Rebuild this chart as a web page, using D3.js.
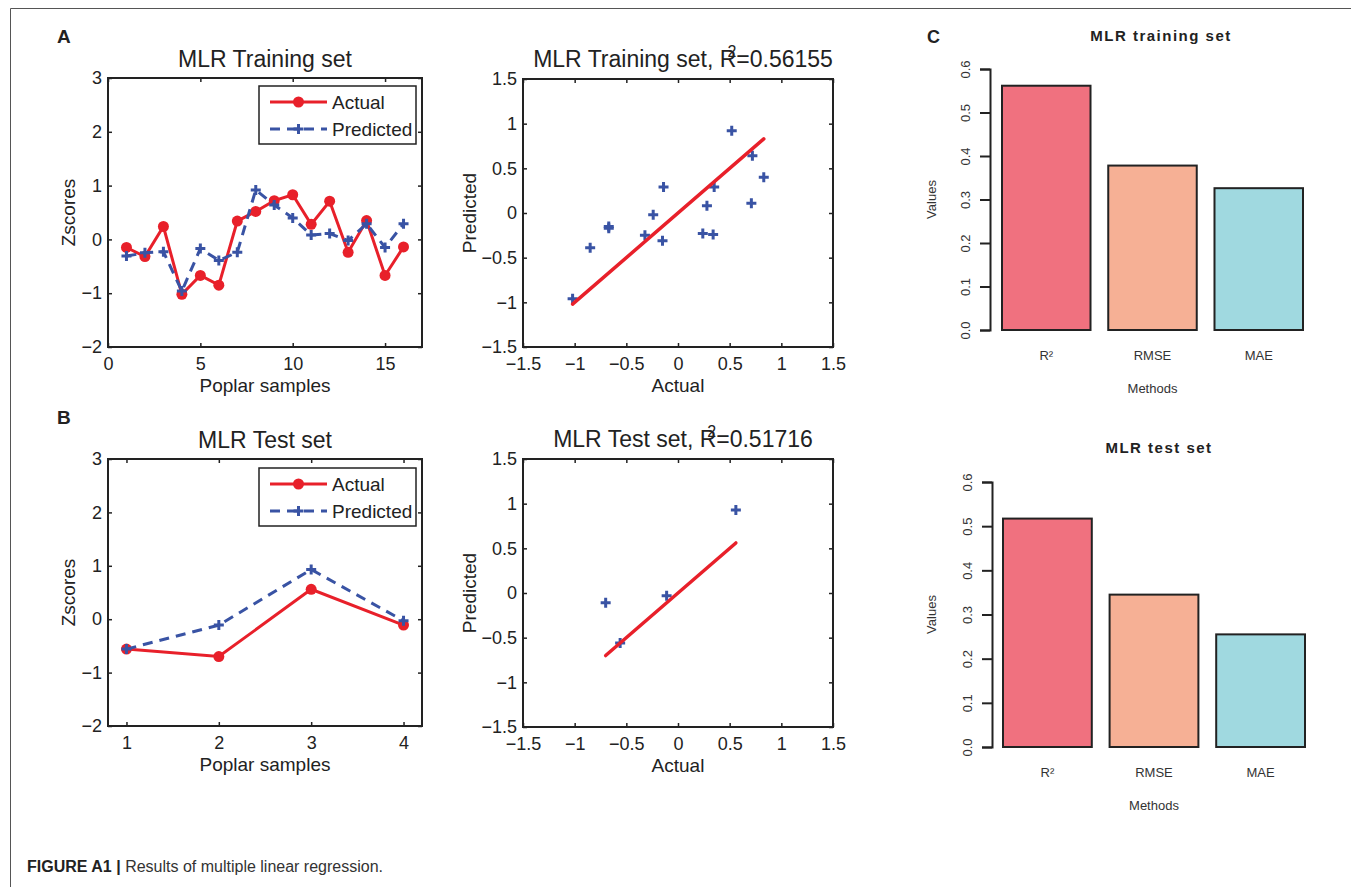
<!DOCTYPE html>
<html>
<head>
<meta charset="utf-8">
<script src="https://cdn.jsdelivr.net/npm/d3@7"></script>
<style>
body { margin: 0; background: #fff; }
text { font-family: "Liberation Sans", Arial, Helvetica, sans-serif; }
</style>
</head>
<body>
<div id="chart"></div>
<script>
// values
var trainSamples = [1, 2, 3, 4, 5, 6, 7, 8, 9, 10, 11, 12, 13, 14, 15, 16];
var trainActual = [-0.15, -0.32, 0.24, -1.02, -0.67, -0.85, 0.34, 0.52, 0.72, 0.83, 0.28, 0.71, -0.24, 0.35, -0.67, -0.14];
var trainPredicted = [-0.31, -0.25, -0.23, -0.96, -0.17, -0.39, -0.24, 0.92, 0.64, 0.40, 0.08, 0.11, -0.02, 0.29, -0.15, 0.29];

var testSamples = [1, 2, 3, 4];
var testActual = [-0.56, -0.70, 0.56, -0.11];
var testPredicted = [-0.56, -0.11, 0.93, -0.03];

var metricNames = ["R\u00b2", "RMSE", "MAE"];
var trainMetrics = [0.56155, 0.378, 0.326];
var testMetrics = [0.51716, 0.345, 0.255];

var lineYTicks = [-2, -1, 0, 1, 2, 3];
var trainXTicks = [0, 5, 10, 15];
var testXTicks = [1, 2, 3, 4];
var scatterTicks = [-1.5, -1, -0.5, 0, 0.5, 1, 1.5];
var barTicks = [0, 0.1, 0.2, 0.3, 0.4, 0.5, 0.6];

var red = "#e8202a";
var blue = "#3953a4";
var ink = "#222";
var barColors = ["#f0717f", "#f6b095", "#a0d9e0"];

var svg = d3.select("#chart")
  .append("svg")
  .attr("width", 1351)
  .attr("height", 887);

// outer figure frame
svg.append("path")
  .attr("d", "M1351,8.5H10.5V887")
  .attr("fill", "none")
  .attr("stroke", "#555")
  .attr("stroke-width", 1);

var fmt = d3.format("~g");

// matlab style box with inward ticks on all four sides
function boxAxes(g, x, y, xTicks, yTicks, b) {
  var bottom = g.append("g")
    .attr("transform", `translate(0, ${b.bottom})`)
    .call(d3.axisBottom(x).tickValues(xTicks).tickSizeInner(-4).tickSizeOuter(0).tickPadding(10).tickFormat(fmt));
  var top = g.append("g")
    .attr("transform", `translate(0, ${b.top})`)
    .call(d3.axisTop(x).tickValues(xTicks).tickSizeInner(-4).tickSizeOuter(0).tickFormat(""));
  var left = g.append("g")
    .attr("transform", `translate(${b.left}, 0)`)
    .call(d3.axisLeft(y).tickValues(yTicks).tickSizeInner(-4).tickSizeOuter(0).tickPadding(6).tickFormat(fmt));
  var right = g.append("g")
    .attr("transform", `translate(${b.right}, 0)`)
    .call(d3.axisRight(y).tickValues(yTicks).tickSizeInner(-4).tickSizeOuter(0).tickFormat(""));

  [bottom, top, left, right].forEach(function(a) {
    a.attr("font-size", 18).attr("font-family", null);
    a.select(".domain").remove();
    a.selectAll(".tick line").attr("stroke", ink).attr("stroke-width", 1.5);
    a.selectAll(".tick text").attr("fill", ink);
  });

  g.append("rect")
    .attr("x", b.left)
    .attr("y", b.top)
    .attr("width", b.right - b.left)
    .attr("height", b.bottom - b.top)
    .attr("fill", "none")
    .attr("stroke", ink)
    .attr("stroke-width", 2);
}

function plusPath(s) {
  return `M${-s},0H${s}M0,${-s}V${s}`;
}

function linePanel(opt) {
  var b = opt.box;
  var g = svg.append("g");
  var x = d3.scaleLinear().domain(opt.xDomain).range([b.left, b.right]);
  var y = d3.scaleLinear().domain([-2, 3]).range([b.bottom, b.top]);

  boxAxes(g, x, y, opt.xTicks, lineYTicks, b);

  var line = d3.line().x(d => x(d[0])).y(d => y(d[1]));

  g.append("path")
    .attr("d", line(d3.zip(opt.samples, opt.actual)))
    .attr("fill", "none")
    .attr("stroke", red)
    .attr("stroke-width", 3);

  g.selectAll(".act")
    .data(d3.zip(opt.samples, opt.actual))
    .enter()
    .append("circle")
    .attr("cx", d => x(d[0]))
    .attr("cy", d => y(d[1]))
    .attr("r", 5.5)
    .attr("fill", red);

  g.append("path")
    .attr("d", line(d3.zip(opt.samples, opt.predicted)))
    .attr("fill", "none")
    .attr("stroke", blue)
    .attr("stroke-width", 3)
    .attr("stroke-dasharray", "10,7");

  g.selectAll(".pred")
    .data(d3.zip(opt.samples, opt.predicted))
    .enter()
    .append("path")
    .attr("transform", d => `translate(${x(d[0])}, ${y(d[1])})`)
    .attr("d", plusPath(5))
    .attr("stroke", blue)
    .attr("stroke-width", 3);

  // legend
  var lg = g.append("g")
    .attr("transform", `translate(${b.right - 163}, ${b.top + opt.legendTop})`);
  lg.append("rect")
    .attr("width", 157)
    .attr("height", 58)
    .attr("fill", "#fff")
    .attr("stroke", ink)
    .attr("stroke-width", 1.5);
  lg.append("line")
    .attr("x1", 11).attr("x2", 68).attr("y1", 16).attr("y2", 16)
    .attr("stroke", red).attr("stroke-width", 3);
  lg.append("circle")
    .attr("cx", 39.5).attr("cy", 16).attr("r", 5.5).attr("fill", red);
  lg.append("line")
    .attr("x1", 11).attr("x2", 68).attr("y1", 43).attr("y2", 43)
    .attr("stroke", blue).attr("stroke-width", 3).attr("stroke-dasharray", "10,7");
  lg.append("path")
    .attr("transform", "translate(39.5, 43)")
    .attr("d", plusPath(5))
    .attr("stroke", blue).attr("stroke-width", 3);
  lg.append("text").attr("x", 73).attr("y", 23).attr("font-size", 19).attr("fill", ink).text("Actual");
  lg.append("text").attr("x", 73).attr("y", 50).attr("font-size", 19).attr("fill", ink).text("Predicted");

  // titles and labels
  g.append("text")
    .attr("x", (b.left + b.right) / 2)
    .attr("y", b.top - 11)
    .attr("text-anchor", "middle")
    .attr("font-size", 23)
    .attr("fill", ink)
    .text(opt.title);

  g.append("text")
    .attr("x", (b.left + b.right) / 2)
    .attr("y", b.bottom + 45)
    .attr("text-anchor", "middle")
    .attr("font-size", 19)
    .attr("fill", ink)
    .text("Poplar samples");

  g.append("text")
    .attr("transform", `translate(75, ${(b.top + b.bottom) / 2}) rotate(-90)`)
    .attr("text-anchor", "middle")
    .attr("font-size", 19)
    .attr("fill", ink)
    .text("Zscores");

  g.append("text")
    .attr("x", 57)
    .attr("y", b.top - 35)
    .attr("font-size", 19)
    .attr("font-weight", "bold")
    .attr("fill", ink)
    .text(opt.letter);
}

function scatterPanel(opt) {
  var b = opt.box;
  var g = svg.append("g");
  var x = d3.scaleLinear().domain([-1.5, 1.5]).range([b.left, b.right]);
  var y = d3.scaleLinear().domain([-1.5, 1.5]).range([b.bottom, b.top]);

  boxAxes(g, x, y, scatterTicks, scatterTicks, b);

  g.selectAll(".pt")
    .data(d3.zip(opt.actual, opt.predicted))
    .enter()
    .append("path")
    .attr("transform", d => `translate(${x(d[0])}, ${y(d[1])})`)
    .attr("d", plusPath(5))
    .attr("stroke", blue)
    .attr("stroke-width", 3);

  // actual against actual (identity) line
  var ext = d3.extent(opt.actual);
  g.append("line")
    .attr("x1", x(ext[0])).attr("y1", y(ext[0]))
    .attr("x2", x(ext[1])).attr("y2", y(ext[1]))
    .attr("stroke", red)
    .attr("stroke-width", 3.5)
    .attr("stroke-linecap", "round");

  var t = g.append("text")
    .attr("x", 683)
    .attr("y", b.top - 12)
    .attr("text-anchor", "middle")
    .attr("font-size", 23)
    .attr("fill", ink);
  t.append("tspan").text(opt.title + ", R");
  t.append("tspan").attr("dx", -9).attr("dy", -10).attr("font-size", 16).text("2");
  t.append("tspan").attr("dy", 10).text("=" + opt.r2);

  g.append("text")
    .attr("x", (b.left + b.right) / 2)
    .attr("y", b.bottom + 45)
    .attr("text-anchor", "middle")
    .attr("font-size", 19)
    .attr("fill", ink)
    .text("Actual");

  g.append("text")
    .attr("transform", `translate(476, ${(b.top + b.bottom) / 2}) rotate(-90)`)
    .attr("text-anchor", "middle")
    .attr("font-size", 19)
    .attr("fill", ink)
    .text("Predicted");
}

function barPanel(opt) {
  var b = opt.box;
  var g = svg.append("g");
  var x = d3.scaleBand()
    .domain(metricNames)
    .range([b.left, b.right])
    .paddingInner(0.167)
    .paddingOuter(0);
  var y = d3.scaleLinear().domain([0, 0.6]).range([b.bottom, b.top]);

  g.selectAll(".bar")
    .data(d3.zip(metricNames, opt.values))
    .enter()
    .append("rect")
    .attr("x", d => x(d[0]))
    .attr("y", d => y(d[1]))
    .attr("width", x.bandwidth())
    .attr("height", d => y(0) - y(d[1]))
    .attr("fill", (d, i) => barColors[i])
    .attr("stroke", ink)
    .attr("stroke-width", 2);

  var ax = g.append("g")
    .attr("transform", `translate(${opt.axisX}, 0)`)
    .call(d3.axisLeft(y).tickValues(barTicks).tickSize(10).tickFormat(d3.format(".1f")));
  ax.attr("font-family", null).attr("font-size", 13);
  ax.select(".domain").attr("stroke", ink).attr("stroke-width", 2);
  ax.selectAll(".tick line").attr("stroke", ink).attr("stroke-width", 2);
  ax.selectAll(".tick text")
    .attr("x", null)
    .attr("dy", null)
    .attr("transform", "translate(-20, 0) rotate(-90)")
    .attr("text-anchor", "middle")
    .attr("fill", "#333");

  g.selectAll(".cat")
    .data(metricNames)
    .enter()
    .append("text")
    .attr("x", d => x(d) + x.bandwidth() / 2)
    .attr("y", b.bottom + 30)
    .attr("text-anchor", "middle")
    .attr("font-size", 13)
    .attr("fill", "#333")
    .text(d => d);

  g.append("text")
    .attr("x", (b.left + b.right) / 2)
    .attr("y", b.bottom + 63)
    .attr("text-anchor", "middle")
    .attr("font-size", 13)
    .attr("fill", "#333")
    .text("Methods");

  g.append("text")
    .attr("transform", `translate(936, ${(b.top + b.bottom) / 2}) rotate(-90)`)
    .attr("text-anchor", "middle")
    .attr("font-size", 13)
    .attr("fill", "#333")
    .text("Values");

  g.append("text")
    .attr("x", opt.titleX)
    .attr("y", opt.titleY)
    .attr("text-anchor", "middle")
    .attr("font-size", 15)
    .attr("font-weight", "bold")
    .attr("letter-spacing", 1.5)
    .attr("fill", ink)
    .text(opt.title);
}

linePanel({
  box: { left: 108, right: 422, top: 78, bottom: 347 },
  xDomain: [0, 17],
  xTicks: trainXTicks,
  samples: trainSamples,
  actual: trainActual,
  predicted: trainPredicted,
  legendTop: 8,
  title: "MLR Training set",
  letter: "A"
});

linePanel({
  box: { left: 108, right: 422, top: 459, bottom: 726 },
  xDomain: [0.8, 4.2],
  xTicks: testXTicks,
  samples: testSamples,
  actual: testActual,
  predicted: testPredicted,
  legendTop: 9,
  title: "MLR Test set",
  letter: "B"
});

scatterPanel({
  box: { left: 523, right: 833, top: 79, bottom: 347 },
  actual: trainActual,
  predicted: trainPredicted,
  title: "MLR Training set",
  r2: "0.56155"
});

scatterPanel({
  box: { left: 523, right: 833, top: 459, bottom: 727 },
  actual: testActual,
  predicted: testPredicted,
  title: "MLR Test set",
  r2: "0.51716"
});

barPanel({
  box: { left: 1002, right: 1303, top: 69, bottom: 330 },
  axisX: 990,
  values: trainMetrics,
  title: "MLR training set",
  titleX: 1161,
  titleY: 41
});

barPanel({
  box: { left: 1003, right: 1305, top: 482, bottom: 747 },
  axisX: 992,
  values: testMetrics,
  title: "MLR test set",
  titleX: 1159,
  titleY: 453
});

svg.append("text")
  .attr("x", 927)
  .attr("y", 43)
  .attr("font-size", 18)
  .attr("font-weight", "bold")
  .attr("fill", ink)
  .text("C");

// caption
var cap = svg.append("text")
  .attr("x", 27)
  .attr("y", 872)
  .attr("font-size", 16)
  .attr("fill", "#333");
cap.append("tspan").attr("font-weight", "bold").attr("fill", "#222").text("FIGURE A1 | ");
cap.append("tspan").text("Results of multiple linear regression.");
</script>
</body>
</html>
